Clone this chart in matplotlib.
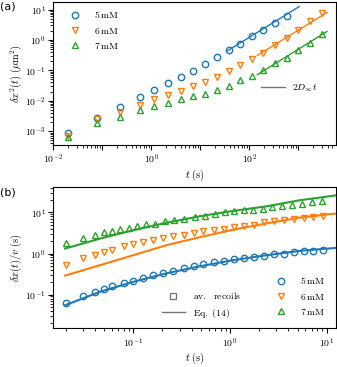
import numpy as np
import matplotlib
matplotlib.use('Agg')
import matplotlib.pyplot as plt
from matplotlib.ticker import LogLocator, FuncFormatter, NullFormatter
from matplotlib.lines import Line2D

plt.rcParams.update({
    'mathtext.fontset': 'cm',
    'font.size': 7,
    'axes.linewidth': 0.8,
    'xtick.major.width': 0.8,
    'ytick.major.width': 0.8,
    'xtick.minor.width': 0.6,
    'ytick.minor.width': 0.6,
    'xtick.major.size': 3.5,
    'ytick.major.size': 3.5,
    'xtick.minor.size': 2,
    'ytick.minor.size': 2,
})

C5, C6, C7 = '#1f77b4', '#ff7f0e', '#2ca02c'
GRAY = '0.45'

# ---- panel (a): mean squared displacement ----
t_a = [0.02, 0.08, 0.23, 0.59, 1.15, 2.2, 4.0, 7.2, 12.4, 21.5, 37.8, 64,
       112, 193, 334, 578, 1000, 1730, 2990]
msd5 = [8.5e-4, 2.8e-3, 6.3e-3, 1.3e-2, 0.0224, 0.038, 0.06, 0.097, 0.164,
        0.265, 0.46, 0.76, 1.33, 2.2, 3.6, 6.3]
msd6 = [6.9e-4, 2.5e-3, 4.4e-3, 7.2e-3, 0.011, 0.015, 0.021, 0.030, 0.042,
        0.061, 0.094, 0.148, 0.23, 0.38, 0.67, 1.2, 2.2, 4.2, 7.8]
msd7 = [6.3e-4, 1.9e-3, 3.0e-3, 4.9e-3, 6.6e-3, 8.5e-3, 0.011, 0.014, 0.0173,
        0.023, 0.031, 0.048, 0.065, 0.10, 0.17, 0.26, 0.46, 0.80, 1.6]

# long-time diffusive fits 2 D_inf t (end points)
fit_t5, fit_y5 = [36, 1050], [0.44, 12.6]
fit_t6, fit_y6 = [146, 3850], [0.31, 8.0]
fit_t7, fit_y7 = [146, 3850], [0.072, 1.9]

# ---- panel (b): delta x(t) / v ----
t_b = [0.02, 0.03, 0.04, 0.05, 0.06, 0.08, 0.1, 0.127, 0.161, 0.204, 0.26,
       0.33, 0.42, 0.53, 0.68, 0.86, 1.09, 1.38, 1.76, 2.23, 2.83, 3.6, 4.55,
       5.8, 7.3, 9.2]
t_b7 = [0.02, 0.03, 0.04, 0.05, 0.06, 0.073, 0.089, 0.11, 0.135, 0.168, 0.212,
        0.263, 0.333, 0.433, 0.548, 0.695, 0.88, 1.09, 1.38, 1.75, 2.17, 2.75,
        3.49, 4.43, 5.6, 7.1, 9.0]
dx5 = [0.061, 0.092, 0.117, 0.136, 0.161, 0.193, 0.216, 0.25, 0.297, 0.338,
       0.378, 0.432, 0.492, 0.55, 0.605, 0.66, 0.715, 0.76, 0.83, 0.89, 0.96,
       1.0, 1.08, 1.14, 1.18, 1.25]
dx6 = [0.52, 0.78, 0.91, 1.06, 1.25, 1.5, 1.68, 1.9, 2.1, 2.45, 2.7, 2.89,
       3.16, 3.47, 3.83, 4.04, 4.4, 4.6, 5.06, 5.75, 6.08, 6.69, 7.07, 7.3,
       7.73, 8.04]
dx7 = [1.8, 2.4, 2.9, 3.3, 3.6, 4.0, 4.2, 4.8, 5.1, 5.35, 6.1, 6.7, 7.1, 7.7,
       8.4, 9.3, 10.1, 10.6, 11.2, 11.7, 12.4, 13.3, 14.6, 15.5, 16.4, 17.6,
       18.6]

# Eq. (14) curves, sampled from the figure
t_th = [0.0196, 0.045, 0.1, 0.22, 0.49, 1.08, 2.4, 5.3, 12.5]
th5 = [0.055, 0.117, 0.205, 0.33, 0.49, 0.69, 0.91, 1.16, 1.37]
th6 = [0.29, 0.52, 0.91, 1.6, 2.5, 3.8, 5.4, 7.5, 9.4]
th7 = [1.32, 2.3, 3.7, 5.6, 8.1, 10.9, 14.1, 19.8, 26]

labels = [r'$5\,\mathrm{mM}$', r'$6\,\mathrm{mM}$', r'$7\,\mathrm{mM}$']


def pow10(v, pos):
    return r'$10^{%d}$' % int(round(np.log10(v)))


def style_log(ax, xmajor, ymajor):
    ax.set_xscale('log')
    ax.set_yscale('log')
    ax.xaxis.set_major_locator(LogLocator(base=10, subs=(1.0,), numticks=20))
    ax.yaxis.set_major_locator(LogLocator(base=10, subs=(1.0,), numticks=20))
    ax.xaxis.set_minor_locator(LogLocator(base=10, subs=np.arange(1, 10), numticks=50))
    ax.yaxis.set_minor_locator(LogLocator(base=10, subs=np.arange(2, 10), numticks=50))
    ax.xaxis.set_major_formatter(FuncFormatter(
        lambda v, p: pow10(v, p) if round(np.log10(v)) in xmajor else ''))
    ax.yaxis.set_major_formatter(FuncFormatter(
        lambda v, p: pow10(v, p) if round(np.log10(v)) in ymajor else ''))
    ax.xaxis.set_minor_formatter(NullFormatter())
    ax.yaxis.set_minor_formatter(NullFormatter())
    ax.tick_params(labelsize=7, pad=2)


fig = plt.figure(figsize=(3.37, 3.67), dpi=100)

# ----- (a) -----
ax1 = fig.add_axes([0.158, 0.605, 0.839, 0.39])
mk = dict(mfc='none', ms=4.6, mew=1.0, ls='none')
ax1.plot(t_a[:len(msd5)], msd5, 'o', color=C5, label=labels[0], **mk)
ax1.plot(t_a, msd6, 'v', color=C6, label=labels[1], **mk)
ax1.plot(t_a, msd7, '^', color=C7, label=labels[2], **mk)
ax1.plot(fit_t5, fit_y5, color=C5, lw=1)
ax1.plot(fit_t6, fit_y6, color=C6, lw=1)
ax1.plot(fit_t7, fit_y7, color=C7, lw=1)
ax1.set_xlim(0.01, 5900)
ax1.set_ylim(3.5e-4, 18)
style_log(ax1, {-2, 0, 2}, {-3, -2, -1, 0, 1})
ax1.set_xlabel(r'$t\;(\mathrm{s})$', fontsize=7.5, labelpad=1)
ax1.set_ylabel(r'$\delta x^2(t)\;(\mu\mathrm{m}^2)$', fontsize=7.5, labelpad=1)

leg1 = ax1.legend(loc='upper left', frameon=False, fontsize=7,
                  bbox_to_anchor=(0.012, 1.01), handletextpad=0.9,
                  labelspacing=0.55)
ax1.add_artist(leg1)
dline = Line2D([], [], color=GRAY, lw=1)
ax1.legend([dline], [r'$2D_\infty t$'], loc='center left', frameon=False,
           fontsize=7, bbox_to_anchor=(0.705, 0.395), handlelength=2.4,
           handletextpad=0.8)

# ----- (b) -----
ax2 = fig.add_axes([0.158, 0.105, 0.839, 0.386])
ax2.plot(t_th, th5, color=C5, lw=1.5)
ax2.plot(t_th, th6, color=C6, lw=1.5)
ax2.plot(t_th, th7, color=C7, lw=1.5)
h5, = ax2.plot(t_b, dx5, 'o', color=C5, **mk)
h6, = ax2.plot(t_b, dx6, 'v', color=C6, **mk)
h7, = ax2.plot(t_b7, dx7, '^', color=C7, **mk)
ax2.set_xlim(0.0148, 12.5)
ax2.set_ylim(0.015, 42)
style_log(ax2, {-1, 0, 1}, {-1, 0, 1})
ax2.set_xlabel(r'$t\;(\mathrm{s})$', fontsize=7.5, labelpad=1)
ax2.set_ylabel(r'$\delta x(t)/v\;(\mathrm{s})$', fontsize=7.5, labelpad=1)

leg2 = ax2.legend([h5, h6, h7], labels, loc='lower right', frameon=False,
                  fontsize=7, bbox_to_anchor=(0.992, 0.02),
                  handletextpad=1.0, labelspacing=0.55)
ax2.add_artist(leg2)
sq = Line2D([], [], marker='s', mfc='none', mec=GRAY, ms=4.6, mew=0.9, ls='none')
ln = Line2D([], [], color=GRAY, lw=1)
ax2.legend([sq, ln], [r'$\mathrm{av.\ \ recoils}$', r'$\mathrm{Eq.\ (14)}$'],
           loc='lower left', frameon=False, fontsize=7,
           bbox_to_anchor=(0.352, 0.0), handlelength=2.4,
           handletextpad=0.8, labelspacing=0.55)

fig.text(0.0, 0.995, '(a)', fontsize=8, va='top', ha='left')
fig.text(0.0, 0.49, '(b)', fontsize=8, va='top', ha='left')

fig.savefig('out.png', dpi=100)
